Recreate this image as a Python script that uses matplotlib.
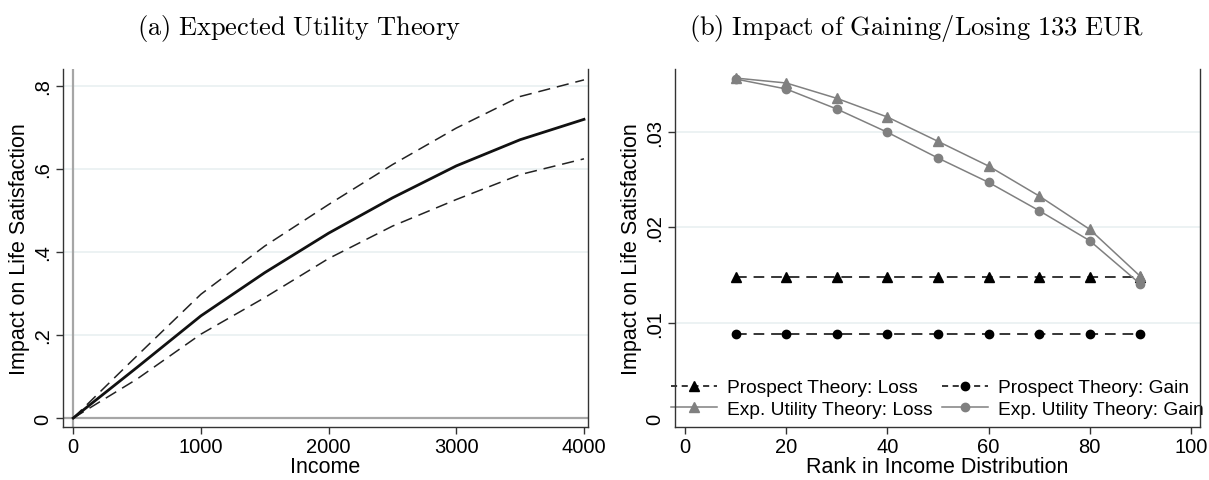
import matplotlib.pyplot as plt
from matplotlib.lines import Line2D

# panel (a): expected utility curve with confidence bands
income = [0, 500, 1000, 1500, 2000, 2500, 3000, 3500, 4000]
eut_mid = [0, 0.122, 0.246, 0.350, 0.445, 0.530, 0.607, 0.670, 0.719]
eut_upper = [0, 0.150, 0.298, 0.414, 0.514, 0.610, 0.698, 0.774, 0.814]
eut_lower = [0, 0.094, 0.202, 0.290, 0.384, 0.462, 0.526, 0.586, 0.624]

# panel (b): impact of gaining/losing 133 EUR by income rank
rank = [10, 20, 30, 40, 50, 60, 70, 80, 90]
pt_loss = [0.01476] * 9
pt_gain = [0.00878] * 9
eu_loss = [0.03566, 0.03514, 0.03353, 0.03157, 0.02902, 0.02643, 0.02329, 0.01979, 0.01486]
eu_gain = [0.03556, 0.03451, 0.03241, 0.02997, 0.02727, 0.02472, 0.02175, 0.01860, 0.01406]

titles = ['(a) Expected Utility Theory', '(b) Impact of Gaining/Losing 133 EUR']
ylabel = 'Impact on Life Satisfaction'

plt.rcParams.update({
    'font.family': ['Liberation Sans', 'DejaVu Sans'],
    'mathtext.fontset': 'cm',
    'axes.linewidth': 1.0,
    'xtick.major.size': 5,
    'ytick.major.size': 5,
})

GRID = '#e9f0f1'
GRAY = '#808080'

fig = plt.figure(figsize=(12.09, 4.81), dpi=100)
ax1 = fig.add_axes([0.0521, 0.110, 0.4343, 0.7443])
ax2 = fig.add_axes([0.5583, 0.110, 0.4343, 0.7443])


def style_axes(ax):
    ax.spines['top'].set_visible(False)
    for s in ('left', 'right', 'bottom'):
        ax.spines[s].set_color('#333333')
        ax.spines[s].set_zorder(6)
    ax.tick_params(axis='both', labelsize=14.5, color='#333333', width=1.0)
    ax.tick_params(axis='y', labelrotation=90, pad=3)
    ax.tick_params(axis='x', pad=2)
    for lab in ax.get_yticklabels():
        lab.set_va('center')
    ax.set_ylabel(ylabel, fontsize=15.5, labelpad=2)


# ---- panel (a)
for y in [0.2, 0.4, 0.6, 0.8]:
    ax1.axhline(y, color=GRID, lw=1.2, zorder=0)
ax1.axhline(0, color='#a6a6a6', lw=1.6, zorder=1)
ax1.axvline(0, color='#a6a6a6', lw=1.6, zorder=1)
ax1.plot(income, eut_upper, color='#222222', lw=1.1, dashes=(8, 4.5), zorder=3)
ax1.plot(income, eut_lower, color='#222222', lw=1.1, dashes=(8, 4.5), zorder=3)
ax1.plot(income, eut_mid, color='#111111', lw=2.0, zorder=4)
ax1.set_xlim(-80, 4032)
ax1.set_ylim(-0.0217, 0.840)
ax1.set_xticks([0, 1000, 2000, 3000, 4000])
ax1.set_yticks([0, 0.2, 0.4, 0.6, 0.8])
ax1.set_yticklabels(['0', '.2', '.4', '.6', '.8'])
ax1.set_xlabel('Income', fontsize=15.5, labelpad=0)
style_axes(ax1)

# ---- panel (b)
for y in [0.01, 0.02, 0.03]:
    ax2.axhline(y, color=GRID, lw=1.2, zorder=0)
ax2.plot(rank, pt_loss, color='black', lw=1.1, dashes=(7, 4.5), marker='^', ms=7, zorder=3)
ax2.plot(rank, pt_gain, color='black', lw=1.1, dashes=(7, 4.5), marker='o', ms=6, zorder=3)
ax2.plot(rank, eu_loss, color=GRAY, lw=1.1, marker='^', ms=7, zorder=4)
ax2.plot(rank, eu_gain, color=GRAY, lw=1.1, marker='o', ms=6, zorder=4)
ax2.set_xlim(-2, 101.8)
ax2.set_ylim(-0.00094, 0.0366)
ax2.set_xticks([0, 20, 40, 60, 80, 100])
ax2.set_yticks([0, 0.01, 0.02, 0.03])
ax2.set_yticklabels(['0', '.01', '.02', '.03'])
ax2.set_xlabel('Rank in Income Distribution', fontsize=15.5, labelpad=0)
style_axes(ax2)

handles = [
    Line2D([], [], color='black', lw=1.1, dashes=(4, 3), marker='^', ms=7),
    Line2D([], [], color=GRAY, lw=1.1, marker='^', ms=7),
    Line2D([], [], color='black', lw=1.1, dashes=(4, 3), marker='o', ms=6),
    Line2D([], [], color=GRAY, lw=1.1, marker='o', ms=6),
]
labels = ['Prospect Theory: Loss', 'Exp. Utility Theory: Loss',
          'Prospect Theory: Gain', 'Exp. Utility Theory: Gain']
leg = ax2.legend(handles, labels, ncol=2, loc='lower center',
                 bbox_to_anchor=(0.5, 0.005), fontsize=13.8, frameon=True,
                 fancybox=False, edgecolor='none', facecolor='white',
                 framealpha=1, handlelength=2.4, handletextpad=0.5,
                 columnspacing=0.5, labelspacing=0.2, borderpad=0.3,
                 borderaxespad=0.1)
leg.set_zorder(5)

fig.text(299 / 1209, 1 - 28 / 481, r'$\mathrm{(a)\ Expected\ Utility\ Theory}$',
         ha='center', va='center', fontsize=19)
fig.text(916 / 1209, 1 - 28 / 481, r'$\mathrm{(b)\ Impact\ of\ Gaining/Losing\ 133\ EUR}$',
         ha='center', va='center', fontsize=19)

fig.savefig('out.png', dpi=100)
